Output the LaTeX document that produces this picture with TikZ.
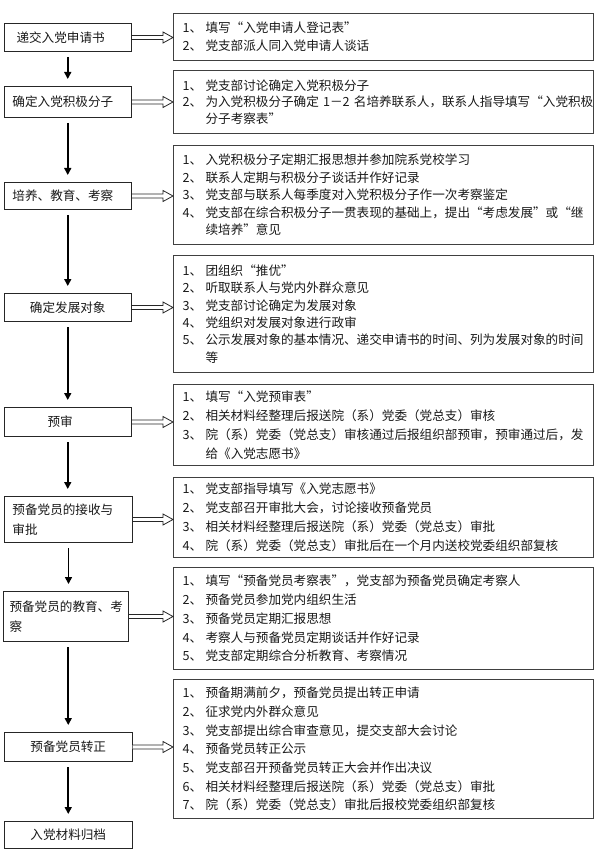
\documentclass[tikz,border=0pt]{standalone}
\usepackage{fontspec}
\setmainfont{Noto Sans CJK SC}
\usetikzlibrary{arrows.meta,calc}
\newcommand\itm[2]{\mbox{\makebox[23pt][l]{#1}#2}}
\newcommand\cnt[1]{\mbox{\hspace*{23pt}#1}}
\begin{document}
\begin{tikzpicture}[x=1pt,y=-1pt,
  lbox/.style={draw=black!85, line width=1pt, rectangle, anchor=north west, align=left,
    inner ysep=2pt, font=\fontsize{12.6}{20}\selectfont, text=black!90},
  rbox/.style={draw=black!75, line width=1.1pt, rectangle, anchor=north west,
    minimum width=420pt, text width=402pt, inner xsep=9pt, align=left, text=black!90},
  varrow/.style={line width=1.6pt, -{Triangle[width=7pt,length=7pt]},
    shorten <=5pt, shorten >=7pt},
  harrow/.style={draw=black!85, line width=0.8pt, fill=white,
    to path={let \p1=(\tikztostart), \p2=(\tikztotarget) in
      (\x1,\y1-2pt) -- (\x2-10pt,\y1-2pt) -- (\x2-10pt,\y1-5.5pt) -- (\x2,\y1)
      -- (\x2-10pt,\y1+5.5pt) -- (\x2-10pt,\y1+2pt) -- (\x1,\y1+2pt)}}
]
\useasboundingbox (0,0) rectangle (601,858);

% left column
\node[lbox, minimum height=28pt, text width=102.5pt, inner xsep=12.5pt] (b1) at (3.5,23) {递交入党申请书};
\node[lbox, minimum height=31pt, text width=110.5pt, inner xsep=8.5pt] (b2) at (3.5,86) {确定入党积极分子};
\node[lbox, minimum height=27pt, text width=110.5pt, inner xsep=8.5pt] (b3) at (3.5,182) {培养、教育、考察};
\node[lbox, align=center, minimum height=28pt, text width=110.5pt, inner xsep=8.5pt] (b4) at (3.5,293) {确定发展对象};
\node[lbox, minimum height=29pt, text width=40.5pt, inner xsep=43.5pt] (b5) at (3.5,407) {预审};
\node[lbox, minimum height=46pt, text width=112pt, inner xsep=8pt] (b6) at (4,496) {预备党员的接收与\\审批};
\node[lbox, minimum height=50pt, text width=113pt, inner xsep=6pt] (b7) at (3,591) {\mbox{预备党员的教育、考}\\察};
\node[lbox, align=center, minimum height=29pt, text width=110.5pt, inner xsep=8.5pt] (b8) at (4,732) {预备党员转正};
\node[lbox, align=center, minimum height=27pt, text width=110.5pt, inner xsep=8.5pt] (b9) at (4,821) {入党材料归档};

% right column
\node[rbox, minimum height=47pt, font=\fontsize{12.6}{18}\selectfont] (r1) at (173,13) {%
\itm{1、}{填写“入党申请人登记表”}\\
\itm{2、}{党支部派人同入党申请人谈话}};
\node[rbox, minimum height=63pt, font=\fontsize{12.6}{16.5}\selectfont] (r2) at (173,70) {%
\itm{1、}{党支部讨论确定入党积极分子}\\
\itm{2、}{为入党积极分子确定 1－2 名培养联系人，联系人指导填写“入党积极}\\
\cnt{分子考察表”}};
\node[rbox, minimum height=99pt, font=\fontsize{12.6}{17.5}\selectfont] (r3) at (173,145) {%
\itm{1、}{入党积极分子定期汇报思想并参加院系党校学习}\\
\itm{2、}{联系人定期与积极分子谈话并作好记录}\\
\itm{3、}{党支部与联系人每季度对入党积极分子作一次考察鉴定}\\
\itm{4、}{党支部在综合积极分子一贯表现的基础上，提出“考虑发展”或“继}\\
\cnt{续培养”意见}};
\node[rbox, minimum height=117pt, font=\fontsize{12.6}{17.4}\selectfont] (r4) at (173,255) {%
\itm{1、}{团组织“推优”}\\
\itm{2、}{听取联系人与党内外群众意见}\\
\itm{3、}{党支部讨论确定为发展对象}\\
\itm{4、}{党组织对发展对象进行政审}\\
\itm{5、}{公示发展对象的基本情况、递交申请书的时间、列为发展对象的时间}\\
\cnt{等}\\[4pt]};
\node[rbox, minimum height=81pt, font=\fontsize{12.6}{19}\selectfont] (r5) at (173,384) {%
\itm{1、}{填写“入党预审表”}\\
\itm{2、}{相关材料经整理后报送院（系）党委（党总支）审核}\\
\itm{3、}{院（系）党委（党总支）审核通过后报组织部预审，预审通过后，发}\\
\cnt{给《入党志愿书》}};
\node[rbox, minimum height=80pt, font=\fontsize{12.6}{19}\selectfont] (r6) at (173,477) {%
\itm{1、}{党支部指导填写《入党志愿书》}\\
\itm{2、}{党支部召开审批大会，讨论接收预备党员}\\
\itm{3、}{相关材料经整理后报送院（系）党委（党总支）审批}\\
\itm{4、}{院（系）党委（党总支）审批后在一个月内送校党委组织部复核}};
\node[rbox, minimum height=102pt, font=\fontsize{12.6}{18.75}\selectfont] (r7) at (173,567) {%
\itm{1、}{填写“预备党员考察表”，党支部为预备党员确定考察人}\\
\itm{2、}{预备党员参加党内组织生活}\\
\itm{3、}{预备党员定期汇报思想}\\
\itm{4、}{考察人与预备党员定期谈话并作好记录}\\
\itm{5、}{党支部定期综合分析教育、考察情况}};
\node[rbox, minimum height=139pt, font=\fontsize{12.6}{18.7}\selectfont] (r8) at (173,679) {%
\itm{1、}{预备期满前夕，预备党员提出转正申请}\\
\itm{2、}{征求党内外群众意见}\\
\itm{3、}{党支部提出综合审查意见，提交支部大会讨论}\\
\itm{4、}{预备党员转正公示}\\
\itm{5、}{党支部召开预备党员转正大会并作出决议}\\
\itm{6、}{相关材料经整理后报送院（系）党委（党总支）审批}\\
\itm{7、}{院（系）党委（党总支）审批后报校党委组织部复核}};

% vertical arrows
\draw[varrow] (b1.south) -- (b1.south |- b2.north);
\draw[varrow] (b2.south) -- (b2.south |- b3.north);
\draw[varrow] (b3.south) -- (b3.south |- b4.north);
\draw[varrow] (b4.south) -- (b4.south |- b5.north);
\draw[varrow] (b5.south) -- (b5.south |- b6.north);
\draw[varrow] (b6.south) -- (b6.south |- b7.north);
\draw[varrow] (b7.south -| b8.north) -- (b8.north);
\draw[varrow] (b8.south) -- (b8.south |- b9.north);

% hollow double arrows
\path[harrow] (b1.east) to (b1.east -| r1.west);
\path[harrow] (b2.east) to (b2.east -| r2.west);
\path[harrow] (b3.east) to (b3.east -| r3.west);
\path[harrow] (b4.east) to (b4.east -| r4.west);
\path[harrow] (b5.east) to (b5.east -| r5.west);
\path[harrow] (b6.east) to (b6.east -| r6.west);
\path[harrow] (b7.east) to (b7.east -| r7.west);
\path[harrow] (b8.east) to (b8.east -| r8.west);
\end{tikzpicture}
\end{document}
